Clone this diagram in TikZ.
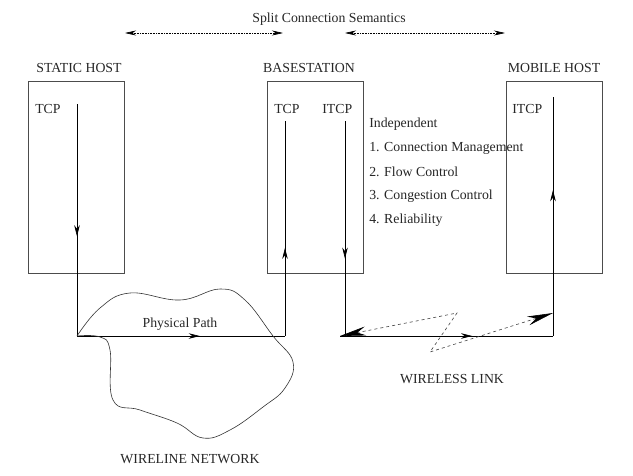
\documentclass[tikz,border=0pt]{standalone}
\usepackage{fontspec}
\setmainfont{Liberation Serif}
\usetikzlibrary{arrows.meta,decorations.markings}

\tikzset{
  hostbox/.style={draw=black!70,line width=0.6pt,minimum width=96pt,minimum height=192pt,inner sep=0pt},
  lbl/.style={inner sep=0pt,font=\fontsize{13.8}{16}\selectfont,text=black!85},
  midarrow/.style={postaction={decorate},decoration={markings,
    mark=at position #1 with {\arrow{Stealth[length=11pt,width=5.5pt]}}}},
  semarrow/.style={densely dotted,{Stealth[length=11pt,width=5pt]}-{Stealth[length=11pt,width=5pt]}},
  radio/.style={dashed,black!75,{Stealth[length=26pt,width=9pt,black]}-{Stealth[length=26pt,width=9pt,black]}}
}

\begin{document}
\begin{tikzpicture}[x=1pt,y=-1pt,line width=0.6pt]
\useasboundingbox (0,0) rectangle (633,475);
% The boxes
\node[hostbox] (sh) at (76,177) {};
\node[hostbox] (bs) at (315,177) {};
\node[hostbox] (mh) at (554,177) {};
\node[lbl] (shname) at (79,68) {STATIC HOST};
\node[lbl] (bsname) at (309,68) {BASESTATION};
\node[lbl] (mhname) at (554,68) {MOBILE HOST};
\node[lbl,anchor=west] (shtcp) at (35,109) {TCP};
\node[lbl,anchor=west] (bstcp) at (274,109) {TCP};
\node[lbl,anchor=west] (bsitcp) at (322,109) {ITCP};
\node[lbl,anchor=west] (mhitcp) at (512,109) {ITCP};

% Split connection semantics
\node[lbl] (split) at (329,19) {Split Connection Semantics};
\coordinate (s1) at (125,33);
\coordinate (s2) at (283,33);
\coordinate (s3) at (345,33);
\coordinate (s4) at (505,33);
\draw[semarrow] (s1) -- (s2);
\draw[semarrow] (s3) -- (s4);

% Independent list
\node[lbl,anchor=west] (ind) at (369,124) {Independent};
\foreach \txt [count=\i] in {Connection Management,Flow Control,Congestion Control,Reliability}
  \node[lbl,anchor=west] (ind\i) at (369,124+24*\i) {\i. \txt};

% The paths
\coordinate (a1) at (77,104);
\coordinate (a2) at (77,336);
\coordinate (b1) at (285,336);
\coordinate (b2) at (285,121);
\coordinate (c1) at (345,121);
\coordinate (c2) at (345,336);
\coordinate (d1) at (340,336);
\coordinate (d2) at (553,336);
\coordinate (e1) at (553,97);
\draw[midarrow=0.57] (a1) -- (a2);
\draw[midarrow=0.59] (a2) -- (b1);
\draw[midarrow=0.41] (b1) -- (b2);
\draw[midarrow=0.64] (c1) -- (c2);
\draw[midarrow=0.62] (d1) -- (d2);
\draw[midarrow=0.61] (d2) -- (e1);
\node[lbl] (phys) at (180,324) {Physical Path};

% Wireless link
\coordinate (w1) at (457,313);
\coordinate (w2) at (430,352);
\coordinate (w3) at (553,313);
\draw[radio] (d1) -- (w1) -- (w2) -- (w3);
\node[lbl] (wless) at (452,379) {WIRELESS LINK};

% Wireline network cloud
\draw[black!80] plot[smooth,tension=0.7] coordinates {(77,336) (100,308) (130,293) (180,300)
  (220,289) (245,300) (273,336) (293,362) (285,388) (263,407) (230,430) (203,438) (177,423)
  (140,410) (113,400) (110,350) (100,337) (77,336)};
\node[lbl] (wline) at (190,459) {WIRELINE NETWORK};
\end{tikzpicture}
\end{document}
